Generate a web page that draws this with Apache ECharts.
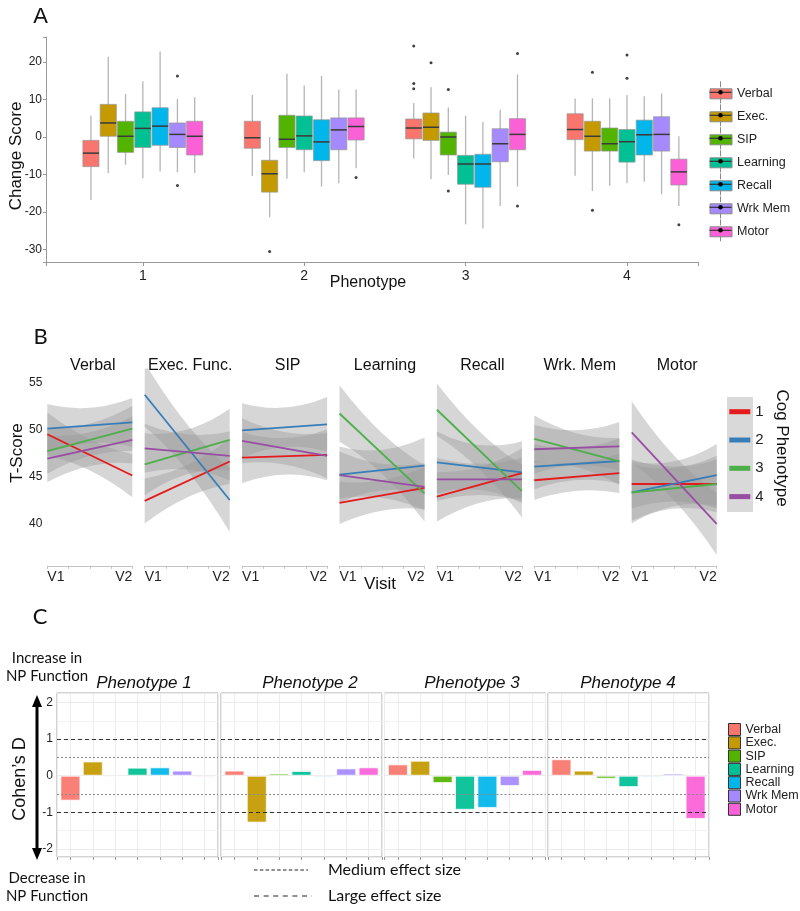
<!DOCTYPE html>
<html><head><meta charset="utf-8">
<script src="https://cdn.jsdelivr.net/npm/echarts@6/dist/echarts.min.js"></script>
<style>html,body{margin:0;padding:0;background:#fff}#chart{width:800px;height:911px}</style>
</head><body><div id="chart"></div>
<script>
// ---------- Panel A data ----------
const measures = ['Verbal','Exec.','SIP','Learning','Recall','Wrk Mem','Motor'];
const measureColors = ['#F8766D','#C49A00','#53B400','#00C094','#00B6EB','#A58AFF','#FB61D7'];
const phenotypes = [1, 2, 3, 4];
// [lower whisker, Q1, median, Q3, upper whisker] for phenotypes 1..4
const boxVerbal   = [[-16.8,-7.9,-4.3,-0.9,5.7],[-10.4,-3.0,-0.2,4.2,11.2],[-5.7,-0.5,2.4,4.8,9.1],[-10.3,-0.7,2.0,6.2,10.3]];
const boxExec     = [[-9.6,0.2,3.75,8.7,21.4],[-21.4,-14.7,-9.8,-6.2,0],[-11.25,-0.9,2.6,6.4,13.3],[-14.4,-3.75,0.2,4.2,10.3]];
const boxSIP      = [[-7.4,-4.1,0.2,4.2,11.5],[-11.1,-2.8,-0.6,5.8,16.9],[-10.1,-4.8,0,1.3,7.9],[-13.0,-3.75,-1.8,2.4,10.3]];
const boxLearning = [[-11,-2.8,2.3,6.7,14.9],[-9.4,-3.4,0.3,5.6,13.75],[-23.3,-12.6,-7.2,-4.9,5.7],[-12.3,-6.7,-1.25,2.0,11.2]];
const boxRecall   = [[-9.2,-2.2,2.9,7.8,22.8],[-13.2,-6.3,-1.3,4.6,16.25],[-24.4,-13.4,-7.2,-4.6,4.0],[-11.9,-4.8,0.6,4.5,10.9]];
const boxWrkMem   = [[-9.4,-2.8,0.7,3.75,10.2],[-12.3,-3.4,1.9,5.1,12.7],[-18.4,-6.6,-1.8,2.2,7.3],[-15.3,-3.75,0.7,5.4,11.6]];
const boxMotor    = [[-9.6,-4.8,0.2,4.2,10.6],[-8.3,-0.8,2.8,5.1,12.7],[-13.2,-3.4,0.7,4.9,16.7],[-18.4,-12.8,-9.3,-5.9,0.2]];
// outliers: [phenotype, value]
const outVerbal   = [[3,24.3],[3,14.3],[3,12.9]];
const outExec     = [[2,-30.5],[3,19.8],[4,17.3],[4,-19.5]];
const outSIP      = [[3,12.7],[3,-14.4]];
const outLearning = [[4,21.9],[4,15.7]];
const outRecall   = [];
const outWrkMem   = [[1,16.3],[1,-12.9]];
const outMotor    = [[2,-10.8],[3,22.3],[3,-18.4],[4,-23.4]];
const boxStats = [boxVerbal, boxExec, boxSIP, boxLearning, boxRecall, boxWrkMem, boxMotor];
const outliers = [outVerbal, outExec, outSIP, outLearning, outRecall, outWrkMem, outMotor];

// ---------- Panel B data ----------
const facetsB = ['Verbal','Exec. Func.','SIP','Learning','Recall','Wrk. Mem','Motor'];
const groupsB = ['1','2','3','4'];
const groupColors = ['#E41A1C','#377EB8','#4DAF4A','#984EA3'];
const visitLabels = ['V1','V2'];
// T-score fitted at V1 / V2 for groups 1..4
const tV1 = [[49.5,50.1,47.7,46.9],[42.4,53.7,46.3,48.0],[47.0,49.9,null,48.8],[42.2,45.2,51.7,45.15],[42.85,46.5,52.1,44.7],[44.6,46.05,49.0,47.9],[44.2,43.3,43.3,49.7]];
const tV2 = [[45.1,50.75,50.1,48.9],[46.6,42.5,48.9,47.2],[47.3,50.55,null,47.2],[43.8,46.15,43.2,43.9],[45.35,45.45,43.45,44.7],[45.35,46.65,46.6,48.2],[44.2,45.15,44.2,39.95]];
// confidence band edges at V1, midway, V2
const ciPos = [0, 0.5, 1];
const ciLow = [
 [[47.2,45.64,42.8],[47.5,48.56,48.15],[45.3,47.17,47.7],[44.4,46.1,46.4]],
 [[40.0,42.77,44.2],[50.3,45.65,39.1],[43.0,45.22,45.6],[45.4,45.73,44.6]],
 [[44.3,45.21,44.6],[47.0,48.14,47.65],null,[46.4,46.27,44.8]],
 [[39.95,41.38,41.55],[42.2,43.52,43.15],[48.7,45.29,40.2],[42.65,42.73,41.4]],
 [[40.2,42.19,42.7],[43.2,43.6,42.15],[49.3,45.76,40.65],[42.4,43.04,42.4]],
 [[42.5,43.47,43.25],[43.65,44.62,44.25],[46.5,46.0,44.1],[45.3,46.18,45.6]],
 [[41.6,42.33,41.6],[40.0,41.85,41.85],[40.3,41.59,41.2],[46.4,42.45,36.65]]
];
const ciHigh = [
 [[51.8,48.96,47.4],[52.7,52.3,53.35],[50.1,50.63,52.5],[49.4,49.7,51.4]],
 [[44.8,46.23,49.0],[57.1,50.55,45.9],[49.6,49.98,52.2],[50.6,49.47,49.8]],
 [[49.7,49.09,50.0],[52.8,52.32,53.45],null,[51.2,49.73,49.6]],
 [[44.45,44.62,46.05],[48.2,47.84,49.15],[54.7,49.61,46.2],[47.65,46.33,46.4]],
 [[45.5,46.01,48.0],[49.8,48.36,48.75],[54.9,49.8,46.25],[47.0,46.36,47.0]],
 [[46.7,46.49,47.45],[48.45,48.08,49.05],[51.5,49.6,49.1],[50.5,49.92,50.8]],
 [[46.8,46.07,46.8],[46.6,46.61,48.45],[46.3,45.91,47.2],[53.0,47.21,43.25]]
];

// ---------- Panel C data ----------
const phenotypeTitles = ['Phenotype 1','Phenotype 2','Phenotype 3','Phenotype 4'];
const cohenP1 = [-0.68, 0.39, -0.03, 0.22, 0.23, 0.14, -0.04];
const cohenP2 = [0.14, -1.28, 0.06, 0.13, -0.04, 0.20, 0.23];
const cohenP3 = [0.31, 0.41, -0.20, -0.93, -0.88, -0.28, 0.16];
const cohenP4 = [0.45, 0.14, -0.08, -0.31, -0.04, 0.06, -1.18];
const cohenD = [cohenP1, cohenP2, cohenP3, cohenP4];
const largeEffect = [1, -1];
const mediumEffect = [0.5, -0.5];
const minorGrid = [1.5, -1.5];

// ---------- layout ----------
const FONT = 'Liberation Sans, Arial, sans-serif';
const FONT2 = 'Lato, Liberation Sans, sans-serif';
const DODGE = 0.75 / 7, HALF = 0.05;
const gridA = {left: 46, top: 37, width: 652, height: 225};
const bLeft = i => 47.3 + 97.4 * i, bTop = 368.4, bW = 85, bH = 197.4;
const cLefts = [57, 221, 384.5, 548], cTop = 693, cW = 161, cH = 164;

const grids = [], xAxes = [], yAxes = [], series = [], graphics = [];
const om = {outerBoundsMode: 'none', containLabel: false};

// Panel A
grids.push(Object.assign({}, gridA, om));
xAxes.push({gridIndex: 0, type: 'value', min: 0.4, max: 4.44, splitNumber: 4,
  axisLine: {show: true, onZero: false, lineStyle: {color: '#9a9a9a', width: 1}},
  axisTick: {show: true, length: 4, lineStyle: {color: '#9a9a9a'}},
  axisLabel: {formatter: v => Number.isInteger(v) ? String(v) : '', fontSize: 14, color: '#222', margin: 7, fontFamily: FONT},
  splitLine: {show: false}});
yAxes.push({gridIndex: 0, type: 'value', min: -33.33, max: 26.67,
  axisLine: {show: true, onZero: false, lineStyle: {color: '#9a9a9a', width: 1}},
  axisTick: {show: true, length: 3, lineStyle: {color: '#9a9a9a'}},
  axisLabel: {formatter: v => (Math.abs(v % 10) < 1e-9) ? String(v) : '', fontSize: 12, color: '#222', margin: 4, fontFamily: FONT},
  splitLine: {show: false}});

measures.forEach((m, mi) => {
  series.push({
    type: 'custom', name: m, xAxisIndex: 0, yAxisIndex: 0,
    itemStyle: {color: measureColors[mi]},
    encode: {x: 0, y: [1, 2, 3, 4, 5]},
    data: phenotypes.map((p, pi) => [p].concat(boxStats[mi][pi])),
    renderItem: function (params, api) {
      const xc = api.value(0) + (mi - 3) * DODGE;
      const lo = api.value(1), q1 = api.value(2), med = api.value(3), q3 = api.value(4), hi = api.value(5);
      const t = api.coord([xc, hi]), b = api.coord([xc, lo]);
      const tl = api.coord([xc - HALF, q3]), br = api.coord([xc + HALF, q1]);
      const m1 = api.coord([xc - HALF, med]), m2 = api.coord([xc + HALF, med]);
      return {type: 'group', children: [
        {type: 'line', shape: {x1: t[0], y1: t[1], x2: b[0], y2: b[1]}, style: {stroke: '#b5b5b5', lineWidth: 1.3}},
        {type: 'rect', shape: {x: tl[0], y: tl[1], width: br[0] - tl[0], height: br[1] - tl[1]},
         style: {fill: measureColors[mi], stroke: 'rgba(150,150,150,0.7)', lineWidth: 1}},
        {type: 'line', shape: {x1: m1[0], y1: m1[1], x2: m2[0], y2: m2[1]}, style: {stroke: '#3a3a3a', lineWidth: 1.5}}
      ]};
    }
  });
});
series.push({type: 'scatter', name: 'outlier', xAxisIndex: 0, yAxisIndex: 0, symbolSize: 3, silent: true,
  itemStyle: {color: '#111'},
  data: outliers.flatMap((arr, mi) => arr.map(d => [d[0] + (mi - 3) * DODGE, d[1]]))});

// Panel B
function ribbonRender(params, api) {
  const lo = [0, 1, 2].map(k => api.coord([ciPos[k], api.value(k)]));
  const hi = [0, 1, 2].map(k => api.coord([ciPos[k], api.value(3 + k)]));
  // quadratic control point so the curve passes through the midway value
  const ctrl = p => [2 * p[1][0] - (p[0][0] + p[2][0]) / 2, 2 * p[1][1] - (p[0][1] + p[2][1]) / 2];
  const ch = ctrl(hi), cl = ctrl(lo);
  const d = 'M' + hi[0][0] + ',' + hi[0][1] + ' Q' + ch[0] + ',' + ch[1] + ' ' + hi[2][0] + ',' + hi[2][1] +
            ' L' + lo[2][0] + ',' + lo[2][1] + ' Q' + cl[0] + ',' + cl[1] + ' ' + lo[0][0] + ',' + lo[0][1] + ' Z';
  return {type: 'path', shape: {pathData: d}, style: {fill: 'rgba(153,153,153,0.4)'}};
}
facetsB.forEach((f, fi) => {
  const gi0 = grids.length;
  grids.push(Object.assign({left: bLeft(fi), top: bTop, width: bW, height: bH}, om));
  xAxes.push({gridIndex: gi0, type: 'value', min: 0, max: 1, interval: 0.25,
    axisLine: {show: true, onZero: false, lineStyle: {color: '#c4c4c4', width: 1.2}},
    axisTick: {show: true, length: 3, lineStyle: {color: '#c4c4c4'}},
    axisLabel: {formatter: v => v === 0 ? visitLabels[0] : (v === 1 ? visitLabels[1] : ''),
      alignMinLabel: 'left', alignMaxLabel: 'right', fontSize: 14, color: '#222', margin: 4, fontFamily: FONT},
    splitLine: {show: false}});
  yAxes.push({gridIndex: gi0, type: 'value', min: 35.5, max: 56.5,
    axisLine: {show: false}, axisTick: {show: false},
    axisLabel: {show: fi === 0, formatter: v => (Math.abs(v % 5) < 1e-9) ? String(v) : '', fontSize: 12, color: '#222', margin: 5, fontFamily: FONT},
    splitLine: {show: false}});
  groupsB.forEach((g, gi) => {
    if (tV1[fi][gi] == null) return;
    series.push({type: 'custom', name: 'ci', xAxisIndex: gi0, yAxisIndex: gi0, silent: true, clip: true,
      data: [ciLow[fi][gi].concat(ciHigh[fi][gi])],
      renderItem: ribbonRender});
    series.push({type: 'line', name: g, xAxisIndex: gi0, yAxisIndex: gi0, symbol: 'none', silent: true,
      color: groupColors[gi], itemStyle: {color: groupColors[gi]},
      lineStyle: {color: groupColors[gi], width: 1.8},
      data: [[0, tV1[fi][gi]], [1, tV2[fi][gi]]]});
  });
  graphics.push({type: 'text', x: bLeft(fi) + bW / 2 + 3, y: 366, z: 10,
    style: {text: f, font: '16px ' + FONT, fill: '#111', align: 'center', verticalAlign: 'middle', textAlign: 'center', textVerticalAlign: 'middle'}});
});

// Panel C
cohenD.forEach((vals, fi) => {
  const gi0 = grids.length;
  grids.push(Object.assign({left: cLefts[fi], top: cTop, width: cW, height: cH, show: true,
    borderColor: '#a6a6a6', borderWidth: 1, backgroundColor: '#fff'}, om));
  xAxes.push({gridIndex: gi0, type: 'value', min: 0.4, max: 7.6, splitNumber: 7,
    axisLine: {show: false, onZero: false},
    axisTick: {show: true, length: 3, lineStyle: {color: '#999'}},
    axisLabel: {show: false},
    splitLine: {show: true, lineStyle: {color: '#ececec', width: 1}}});
  yAxes.push({gridIndex: gi0, type: 'value', min: -2.22, max: 2.26,
    axisLine: {show: false}, axisTick: {show: false},
    axisLabel: {show: fi === 0, formatter: v => Number.isInteger(v) ? String(v) : '', fontSize: 12, color: '#222', margin: 4, fontFamily: FONT},
    splitLine: {show: true, lineStyle: {color: '#ececec', width: 1}}});
  series.push({type: 'bar', name: phenotypeTitles[fi], xAxisIndex: gi0, yAxisIndex: gi0, barWidth: 20, silent: true,
    itemStyle: {color: p => measureColors[p.dataIndex], borderColor: 'rgba(255,255,255,0.75)', borderWidth: 1, opacity: 0.93},
    data: vals.map((v, mi) => [mi + 1, v]),
    markLine: {silent: true, symbol: ['none', 'none'], label: {show: false}, animation: false,
      data: [].concat(
        minorGrid.map(v => ({yAxis: v, lineStyle: {type: 'solid', color: '#f1f1f1', width: 1}})),
        mediumEffect.map(v => ({yAxis: v, lineStyle: {type: [2, 2], color: '#8a8a8a', width: 1}})),
        largeEffect.map(v => ({yAxis: v, lineStyle: {type: [4, 3], color: '#333', width: 1.1}}))
      )}
  });
});

// ---------- texts / annotations ----------
function txt(text, x, y, font, opt) {
  opt = opt || {};
  return {type: 'text', x: x, y: y, rotation: opt.rot || 0, z: 10,
    style: {text: text, font: font, fill: opt.fill || '#111', align: opt.align || 'center', verticalAlign: 'middle',
      textAlign: opt.align || 'center', textVerticalAlign: 'middle'}};
}
graphics.push(txt('A', 40.5, 17, '22px ' + FONT));
graphics.push(txt('Change Score', 16, 156, '17px ' + FONT, {rot: Math.PI / 2}));
graphics.push(txt('Phenotype', 368, 283, '16px ' + FONT));
// Legend A glyph overlays (whiskers, median, dot)
measures.forEach((m, i) => {
  const cx = 720.5, cy = 92.3 + 23 * i;
  graphics.push({type: 'line', z: 10, shape: {x1: cx, y1: cy - 11, x2: cx, y2: cy - 5}, style: {stroke: '#8a8a8a', lineWidth: 1}});
  graphics.push({type: 'line', z: 10, shape: {x1: cx, y1: cy + 5, x2: cx, y2: cy + 11}, style: {stroke: '#8a8a8a', lineWidth: 1}});
  graphics.push({type: 'line', z: 10, shape: {x1: cx - 11, y1: cy, x2: cx + 11, y2: cy}, style: {stroke: '#333', lineWidth: 1.2}});
  graphics.push({type: 'circle', z: 11, shape: {cx: cx, cy: cy, r: 2.3}, style: {fill: '#000'}});
});

graphics.push(txt('B', 40.5, 337, '22px ' + FONT2));
graphics.push(txt('T-Score', 17.5, 453, '17px ' + FONT, {rot: Math.PI / 2}));
graphics.push(txt('Visit', 380, 584, '17px ' + FONT));
graphics.push({type: 'rect', z: 1, shape: {x: 727, y: 397, width: 26, height: 115}, style: {fill: '#d9d9d9'}});
graphics.push(txt('Cog Phenotype', 782, 448, '17px ' + FONT, {rot: -Math.PI / 2}));

graphics.push(txt('C', 40, 617, '22px ' + FONT2));
graphics.push(txt('Increase in', 47, 658, '15px ' + FONT2));
graphics.push(txt('NP Function', 47, 676, '15px ' + FONT2));
graphics.push(txt('Decrease in', 47, 878, '15px ' + FONT2));
graphics.push(txt('NP Function', 47, 896, '15px ' + FONT2));
graphics.push(txt('Cohen\u2019s D', 20.5, 779, '18px ' + FONT, {rot: Math.PI / 2}));
const phenoTitleX = [144, 310, 472, 628];
phenotypeTitles.forEach((t, i) => graphics.push(txt(t, phenoTitleX[i], 683, 'italic 17px ' + FONT)));
// double arrow
graphics.push({type: 'line', z: 10, shape: {x1: 37, y1: 703, x2: 37, y2: 852}, style: {stroke: '#000', lineWidth: 3}});
graphics.push({type: 'polygon', z: 10, shape: {points: [[37, 695], [32, 707], [42, 707]]}, style: {fill: '#000'}});
graphics.push({type: 'polygon', z: 10, shape: {points: [[37, 860], [32, 848], [42, 848]]}, style: {fill: '#000'}});
// effect-size key
graphics.push({type: 'line', z: 10, shape: {x1: 254, y1: 870, x2: 308, y2: 870}, style: {stroke: '#222', lineWidth: 1.2, lineDash: [3.5, 2.3]}});
graphics.push({type: 'line', z: 10, shape: {x1: 254, y1: 896, x2: 312, y2: 896}, style: {stroke: '#222', lineWidth: 1.2, lineDash: [5, 4.6]}});
graphics.push(txt('Medium effect size', 328, 870, '16px ' + FONT2, {align: 'left'}));
graphics.push(txt('Large effect size', 328, 896, '16px ' + FONT2, {align: 'left'}));

const option = {
  animation: false,
  backgroundColor: '#fff',
  textStyle: {fontFamily: FONT},
  grid: grids, xAxis: xAxes, yAxis: yAxes, series: series,
  legend: [
    {data: measures, orient: 'vertical', left: 709.5, top: 87.3, padding: 0, icon: 'rect',
     itemWidth: 22, itemHeight: 10, itemGap: 10, selectedMode: false,
     itemStyle: {borderColor: '#8a8a8a', borderWidth: 1},
     textStyle: {fontSize: 12.5, color: '#222', fontFamily: FONT}},
    {data: groupsB, orient: 'vertical', left: 729.3, top: 404.2, padding: 0, icon: 'rect',
     itemWidth: 21, itemHeight: 5, itemGap: 13.3, selectedMode: false, z: 5,
     textStyle: {fontSize: 15, color: '#222', fontFamily: FONT}},
    {data: measures, orient: 'vertical', left: 728, top: 723, padding: 0, icon: 'rect',
     itemWidth: 12, itemHeight: 12, itemGap: 0.3, selectedMode: false,
     itemStyle: {borderColor: '#333', borderWidth: 1},
     textStyle: {fontSize: 12.5, color: '#222', fontFamily: FONT}}
  ],
  graphic: {elements: graphics}
};
const chart = echarts.init(document.getElementById('chart'), null, {renderer: 'canvas'});
chart.setOption(option);
</script></body></html>
